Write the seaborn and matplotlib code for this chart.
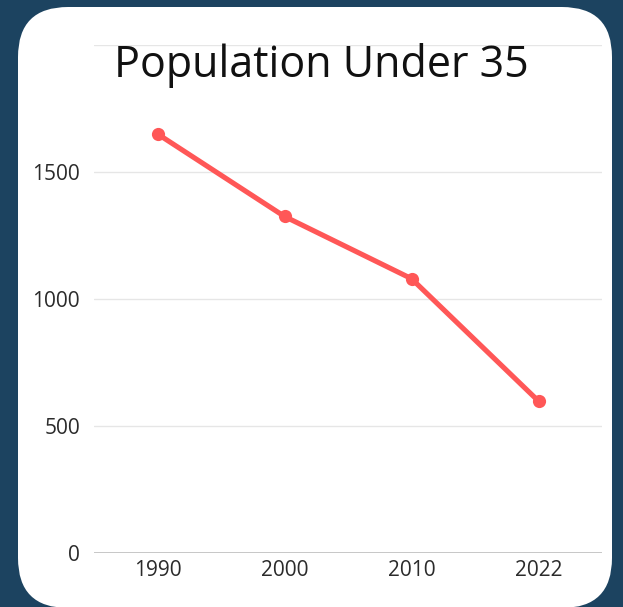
import matplotlib
matplotlib.use("Agg")
import matplotlib.pyplot as plt
import seaborn as sns
import pandas as pd
from matplotlib.patches import FancyBboxPatch

# Data
years = ["1990", "2000", "2010", "2022"]
population = [1650, 1325, 1080, 598]
ytick_values = [0, 500, 1000, 1500, 2000]
ytick_labels = ["0", "500", "1000", "1500", ""]

df = pd.DataFrame({"year": years, "population": population})

sns.set_theme(style="white")
plt.rcParams["font.family"] = ["Open Sans", "DejaVu Sans"]

fig = plt.figure(figsize=(6.23, 6.07), dpi=100)
fig.patch.set_facecolor("#1c4360")

# white rounded card (coords in inches)
card = FancyBboxPatch((0.18, -0.01), 5.94, 6.01,
                      boxstyle="round,pad=0,rounding_size=0.5",
                      transform=fig.dpi_scale_trans, facecolor="white",
                      edgecolor="none", zorder=-1)
fig.patches.append(card)

ax = fig.add_axes([94 / 623, 1 - 553 / 607, (602 - 94) / 623, (553 - 45) / 607])
ax.set_facecolor("none")

sns.lineplot(data=df, x="year", y="population", ax=ax, color="#ff5757",
             linewidth=3.7, marker="o", markersize=9.5, markeredgewidth=0,
             sort=False, zorder=3)

ax.set_xlim(-0.5, 3.5)
ax.set_ylim(0, 2000)
ax.set_yticks(ytick_values)
ax.set_yticklabels(ytick_labels)
for v in ytick_values[1:]:
    ax.axhline(v, color="#e6e6e6", linewidth=1, zorder=0)
ax.axhline(0, color="#bdbdbd", linewidth=1.2, zorder=0)

for s in ax.spines.values():
    s.set_visible(False)
ax.tick_params(axis="both", length=0, labelsize=15, labelcolor="#2b2b2b")
ax.tick_params(axis="y", pad=10)
ax.tick_params(axis="x", pad=5)
ax.set_xlabel("")
ax.set_ylabel("")

fig.text(321 / 623, 1 - 77 / 607, "Population Under 35", ha="center",
         va="baseline", fontsize=31, color="#111111")

fig.savefig("out.png", dpi=100, facecolor=fig.get_facecolor())
